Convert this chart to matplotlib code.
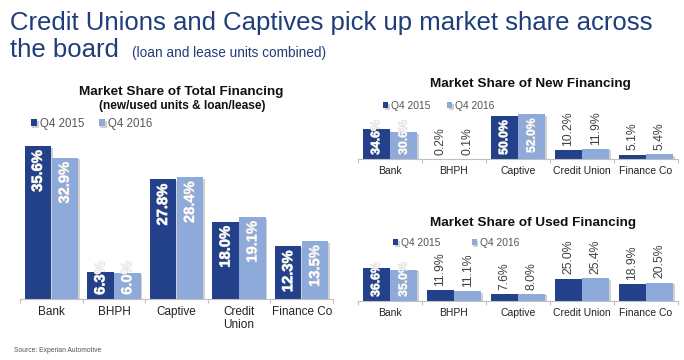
import numpy as np
import matplotlib
matplotlib.use("Agg")
from matplotlib import pyplot as plt
from matplotlib import patheffects as pe

plt.rcParams['font.family'] = ['Liberation Sans', 'DejaVu Sans']

categories = ['Bank', 'BHPH', 'Captive', 'Credit Union', 'Finance Co']
left_labels = ['Bank', 'BHPH', 'Captive', 'Credit\nUnion', 'Finance Co']
series = ['Q4 2015', 'Q4 2016']

total_2015 = [35.6, 6.3, 27.8, 18.0, 12.3]
total_2016 = [32.9, 6.0, 28.4, 19.1, 13.5]
new_2015 = [34.6, 0.2, 50.0, 10.2, 5.1]
new_2016 = [30.6, 0.1, 52.0, 11.9, 5.4]
used_2015 = [36.6, 11.9, 7.6, 25.0, 18.9]
used_2016 = [35.0, 11.1, 8.0, 25.4, 20.5]

DARK = '#22418a'
LIGHT = '#8eaadb'
TITLE = '#1f3d7a'
GRAY = '#404040'

W, H = 684, 360
fig = plt.figure(figsize=(W / 100, H / 100), dpi=100)

shadow = [pe.SimplePatchShadow(offset=(1.2, -1.2), shadow_rgbFace='#9a9a9a', alpha=0.45), pe.Normal()]
inside_texts = []


def px_axes(x0, x1, base, top):
    # pixel box -> figure fraction
    return fig.add_axes([x0 / W, 1 - base / H, (x1 - x0) / W, (base - top) / H])


def bar_chart(ax, v1, v2, ymax, labels, inside_min, fs_val, fs_cat):
    x = np.arange(len(v1))
    w = 0.42
    b1 = ax.bar(x - 0.215, v1, w, color=DARK, label=series[0])
    b2 = ax.bar(x + 0.215, v2, w, color=LIGHT, label=series[1])
    ax.set_xlim(-0.5, len(v1) - 0.5)
    ax.set_ylim(0, ymax)
    for bars, vals in ((b1, v1), (b2, v2)):
        for r, v in zip(bars, vals):
            r.set_path_effects(shadow)
            cx = r.get_x() + r.get_width() / 2
            txt = '%.1f%%' % v
            if v >= inside_min:
                t = ax.annotate(txt, (cx, v), xytext=(0, -3), textcoords='offset points',
                                rotation=90, ha='center', va='top', color='white',
                                fontsize=fs_val, fontweight='bold', annotation_clip=False,
                                path_effects=[pe.withStroke(linewidth=0.6, foreground='#c8c8c8')])
                inside_texts.append((ax, t, cx))
            else:
                ax.annotate(txt, (cx, v), xytext=(0, 3), textcoords='offset points',
                            rotation=90, ha='center', va='bottom', color=GRAY,
                            fontsize=fs_val, annotation_clip=False)
    for s in ('top', 'right', 'left'):
        ax.spines[s].set_visible(False)
    ax.spines['bottom'].set_color('#c0c0c0')
    ax.set_yticks([])
    ax.set_xticks(np.arange(-0.5, len(v1)))
    ax.set_xticklabels([])
    ax.tick_params(axis='x', length=3, color='#c0c0c0')
    for i, lab in enumerate(labels):
        ax.annotate(lab, (i, 0), xycoords=('data', 'axes fraction'), xytext=(0, -5),
                    textcoords='offset points', ha='center', va='top', fontsize=fs_cat,
                    color='#222222', linespacing=1.1)
    return b1, b2


# left chart: total financing
axL = px_axes(20, 333, 299, 127)
bar_chart(axL, total_2015, total_2016, 40, left_labels, 5, 10.6, 8.5)
fig.text(181 / W, 1 - 92 / H, 'Market Share of Total Financing', ha='center', va='center',
         fontsize=9.7, fontweight='bold', color='#111111')
fig.text(182 / W, 1 - 106 / H, '(new/used units & loan/lease)', ha='center', va='center',
         fontsize=8.6, fontweight='bold', color='#111111')
axL.legend(loc='center left', bbox_to_anchor=(26 / W, 1 - 124 / H), bbox_transform=fig.transFigure,
           ncol=2, frameon=False, fontsize=8.3, handlelength=0.55, handleheight=0.55,
           handletextpad=0.3, columnspacing=1.2, labelcolor='#555555', borderaxespad=0)

# top right: new financing
axN = px_axes(358, 678, 159, 107)
bar_chart(axN, new_2015, new_2016, 60, categories, 20, 8.8, 7.5)
fig.text(530 / W, 1 - 84 / H, 'Market Share of New Financing', ha='center', va='center',
         fontsize=9.7, fontweight='bold', color='#111111')
axN.legend(loc='center left', bbox_to_anchor=(379 / W, 1 - 106 / H), bbox_transform=fig.transFigure,
           ncol=2, frameon=False, fontsize=7.4, handlelength=0.5, handleheight=0.5,
           handletextpad=0.3, columnspacing=1.6, labelcolor='#555555', borderaxespad=0)

# bottom right: used financing
axU = px_axes(358, 678, 301, 265)
bar_chart(axU, used_2015, used_2016, 40, categories, 30, 8.8, 7.5)
fig.text(533 / W, 1 - 223 / H, 'Market Share of Used Financing', ha='center', va='center',
         fontsize=9.7, fontweight='bold', color='#111111')
axU.legend(loc='center left', bbox_to_anchor=(389 / W, 1 - 243 / H), bbox_transform=fig.transFigure,
           ncol=2, frameon=False, fontsize=7.4, handlelength=0.5, handleheight=0.5,
           handletextpad=0.3, columnspacing=3.0, labelcolor='#555555', borderaxespad=0)

# headline
fig.text(10 / W, 1 - 30 / H, 'Credit Unions and Captives pick up market share across',
         ha='left', va='baseline', fontsize=18.5, color=TITLE)
fig.text(10 / W, 1 - 57 / H, 'the board', ha='left', va='baseline', fontsize=18.5, color=TITLE)
fig.text(132 / W, 1 - 57 / H, '(loan and lease units combined)', ha='left', va='baseline',
         fontsize=9.8, color=TITLE)
fig.text(14 / W, 1 - 351 / H, 'Source: Experian Automotive', ha='left', va='center',
         fontsize=4.9, color='#555555')

# labels taller than their bar: sit them on the baseline and let them stick out the top
fig.canvas.draw()
rend = fig.canvas.get_renderer()
for ax, t, cx in inside_texts:
    bb = t.get_window_extent(rend)
    base_px = ax.transData.transform((cx, 0))[1]
    if bb.y0 < base_px + 4:
        t.set_va('bottom')
        t.xy = (cx, 0)
        t.set_position((0, 3))

fig.savefig('out.png', dpi=100)
